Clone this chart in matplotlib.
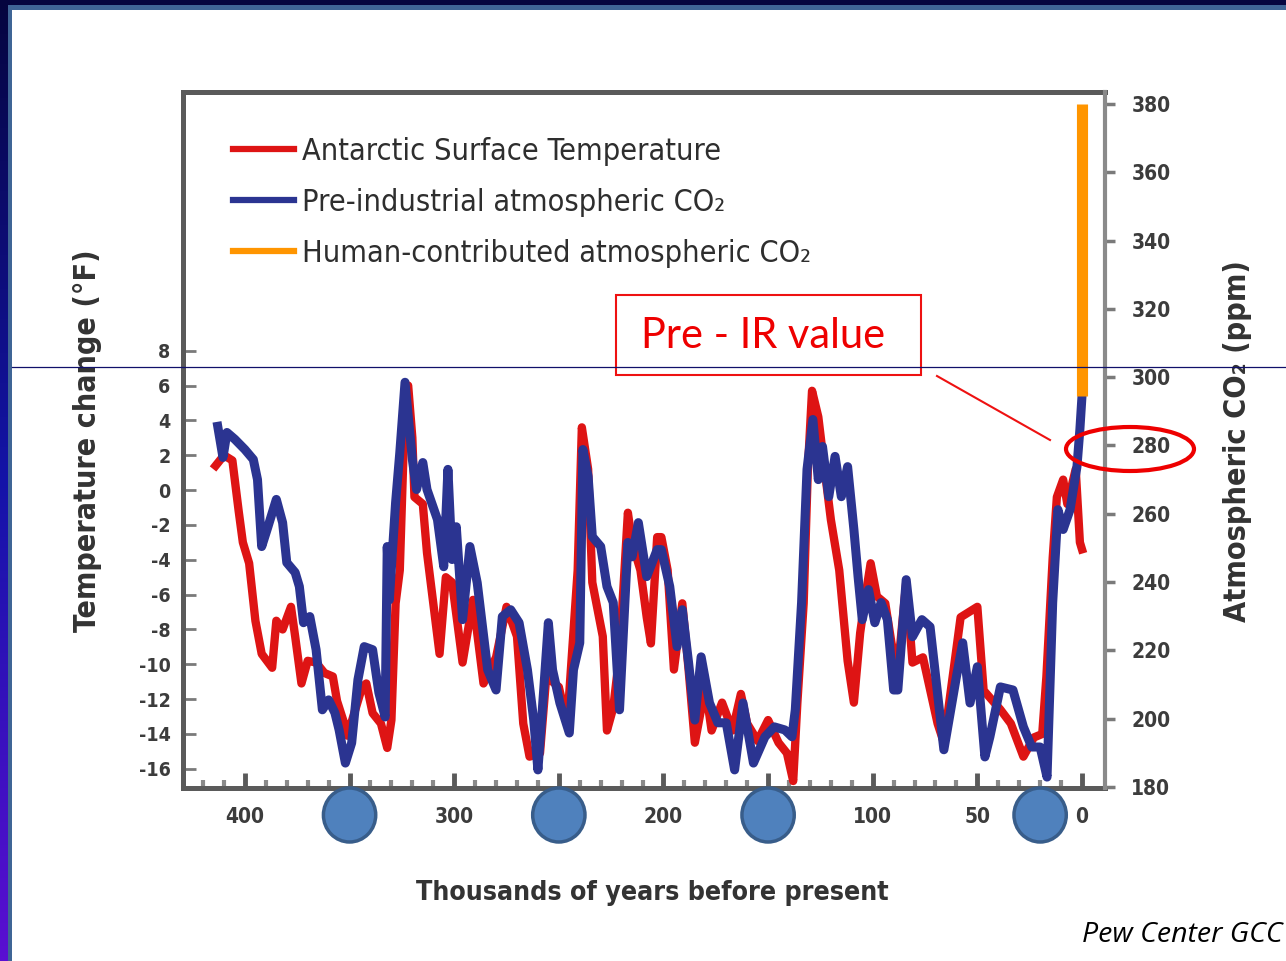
import matplotlib
matplotlib.use("Agg")
import matplotlib.pyplot as plt
import matplotlib.transforms as mtransforms
import numpy as np
from matplotlib.colors import LinearSegmentedColormap
from matplotlib.lines import Line2D
from matplotlib.patches import Ellipse, Rectangle

plt.rcParams['font.family'] = 'DejaVu Sans'
plt.rcParams['font.stretch'] = 'condensed'
plt.rcParams['axes.unicode_minus'] = False

# Antarctic surface temperature change (deg F), thousands of years before present
temp_kyr = [414, 410, 406, 403, 401, 398, 395, 392, 387, 385, 382, 378, 376, 373, 370,
            366, 362, 358, 356, 352, 351, 344, 342, 339, 335, 332, 330, 328, 326, 324,
            322, 320, 319, 315, 313, 307, 304, 301, 296, 291, 286, 280, 275, 270, 267,
            264, 259, 256, 250, 246, 241, 239, 236, 234, 229, 227, 224, 221, 217, 215,
            211, 208, 206, 203, 201, 198, 195, 191, 188, 185, 180, 177, 172, 167, 163,
            160, 155, 150, 145, 141, 138, 136, 133, 131, 129, 126, 123, 120, 116, 112,
            109, 106, 104, 101, 98, 94, 91, 88, 84, 81, 76, 69, 66, 58, 50,
            47, 39, 34, 28, 23, 19, 17, 14, 12, 9, 7, 3, 1, 0]
temp_f = [1.4, 2.0, 1.7, -1.2, -3.0, -4.2, -7.5, -9.4, -10.2, -7.5, -8.0, -6.7, -8.4, -11.1, -9.8,
          -9.9, -10.5, -10.7, -12.1, -13.6, -14.1, -11.3, -11.1, -12.8, -13.4, -14.8, -13.2, -6.5, -4.6, 3.0,
          6.0, 3.0, -0.4, -0.8, -3.6, -9.4, -5.0, -5.3, -9.9, -6.3, -11.1, -9.6, -6.7, -8.4, -13.4,
          -15.3, -15.1, -10.7, -11.3, -13.4, -4.6, 3.6, 1.2, -5.3, -8.4, -13.8, -12.5, -9.4, -1.3, -3.0,
          -4.6, -7.3, -8.8, -2.7, -2.7, -4.6, -10.3, -6.5, -10.3, -14.5, -11.3, -13.8, -12.2, -13.8, -11.7,
          -13.4, -14.4, -13.2, -14.5, -15.1, -16.7, -12.2, -6.5, 1.2, 5.7, 4.2, 1.2, -1.7, -4.6, -9.8,
          -12.2, -8.2, -6.5, -4.2, -6.1, -6.5, -8.8, -10.3, -5.3, -9.9, -9.6, -13.4, -14.5, -7.3, -6.7,
          -11.5, -12.6, -13.4, -15.3, -14.2, -14.0, -10.7, -3.9, -0.4, 0.6, -0.8, 1.2, -3.0, -3.4]

# pre-industrial atmospheric CO2 (ppm)
co2_kyr = [413, 410.5, 408.6, 404.8, 400, 396, 394, 392, 389, 385, 382, 380, 376, 374, 372,
           369, 366, 363, 360, 357, 355, 352, 349, 346, 343, 339, 336, 333, 332, 331,
           328, 326, 323.5, 320, 318, 315, 313, 308, 305, 303, 301, 299, 296, 292.5, 289,
           284, 280, 277, 273, 269, 265, 262, 260, 258, 255, 253, 249.5, 245, 243, 240,
           238.5, 236, 234, 230, 227, 224, 221, 217, 215, 212, 208, 203, 201, 197, 193.5,
           191, 188, 185, 182, 178, 174, 170, 166, 162, 157, 151.5, 147, 142, 138.6, 137,
           134, 131.4, 128.6, 126, 124, 121, 118, 115, 112, 109, 107, 105, 102, 99, 96,
           93, 90, 88, 84, 81, 76.5, 72.6, 66, 60, 57, 53.5, 50, 46.4, 44, 39,
           33, 28, 24, 20, 16.7, 14, 11.5, 9, 5.7, 2.4, 1, 0]
co2_ppm = [285.6, 276.5, 283.8, 281.8, 278.8, 275.9, 270.0, 250.4, 256.2, 264.2, 257.4, 245.7, 242.8, 238.7, 228.1,
           229.9, 220.2, 202.6, 205.5, 201.7, 196.7, 187.0, 192.9, 211.4, 221.1, 220.2, 207.6, 200.5, 250.4, 234.8,
           263.3, 277.9, 298.5, 275.9, 267.1, 275.0, 267.1, 258.3, 244.5, 273.0, 246.6, 256.2, 229.0, 250.4, 239.8,
           214.3, 208.4, 229.9, 231.9, 228.1, 214.3, 199.6, 185.0, 201.7, 228.1, 214.3, 204.6, 195.8, 214.3, 222.2,
           278.8, 270.9, 253.3, 250.4, 238.7, 234.0, 202.6, 251.6, 247.4, 257.4, 241.6, 249.5, 249.5, 238.7, 221.1,
           231.9, 216.4, 199.6, 218.1, 204.6, 198.8, 198.8, 185.0, 204.6, 187.0, 194.7, 197.6, 196.7, 194.7, 202.6,
           234.0, 273.0, 287.6, 270.0, 279.7, 265.0, 276.8, 265.0, 273.8, 255.4, 241.6, 229.0, 237.8, 228.1, 234.0,
           229.0, 208.4, 208.4, 240.7, 224.0, 229.0, 226.9, 190.9, 212.3, 222.2, 204.6, 215.2, 188.8, 194.7, 209.3,
           208.4, 197.6, 191.7, 191.7, 182.9, 234.0, 261.2, 255.4, 261.2, 273.8, 284.7, 294.4]

# human-contributed CO2 on top of the pre-industrial level
human_kyr = [0, 0]
human_ppm = [294.4, 380]

temp_ticks = list(range(-16, 9, 2))
co2_ticks = list(range(180, 381, 20))
kyr_major = list(range(0, 401, 50))
kyr_labels = [400, 300, 200, 100, 50, 0]
marker_kyr = [350, 250, 150, 20]

W, H = 1286, 961
fig = plt.figure(figsize=(W / 100, H / 100), dpi=100)
fig.patch.set_facecolor('white')


def fx(x):
    return x / W


def fy(y):
    return 1 - y / H


# slide frame
edge = fig.add_axes([0, 0, 8 / W, 1])
grad = np.linspace(0, 1, 256).reshape(-1, 1)
edge_cmap = LinearSegmentedColormap.from_list('edge', ['#05053f', '#1414a8', '#5a0fd2'])
edge.imshow(grad, aspect='auto', cmap=edge_cmap, extent=[0, 1, 0, 1], origin='upper')
edge.axis('off')
fig.add_artist(Rectangle((0, fy(5)), 1, 5 / H, transform=fig.transFigure,
                         facecolor='#05053f', edgecolor='none', zorder=1))
fig.add_artist(Rectangle((fx(8), fy(10)), 1, 5 / H, transform=fig.transFigure,
                         facecolor='#3f6596', edgecolor='none', zorder=1))
fig.add_artist(Rectangle((fx(8), 0), 4 / W, fy(5), transform=fig.transFigure,
                         facecolor='#3f6596', edgecolor='none', zorder=1))

ax = fig.add_axes([fx(183), fy(788), (1105 - 183) / W, (788 - 92) / H])
ax2 = ax.twinx()

red = '#de1414'
blue = '#2b3491'
orange = '#ff9500'
ax.plot(temp_kyr, temp_f, color=red, lw=6, solid_joinstyle='round')
ax2.plot(co2_kyr, co2_ppm, color=blue, lw=6.5, solid_joinstyle='round')
ax2.plot(human_kyr, human_ppm, color=orange, lw=8, solid_capstyle='butt')

ax.set_xlim(429.6, -11.0)
ax.set_ylim(-17.1, 22.85)
ax2.set_ylim(179.7, 383.5)

# spines
for side in ['left', 'bottom', 'top']:
    ax.spines[side].set_color('#5a5a5a')
    ax.spines[side].set_linewidth(3.6)
ax.spines['right'].set_visible(False)
for side in ['left', 'bottom', 'top']:
    ax2.spines[side].set_visible(False)
ax2.spines['right'].set_color('#8a8a8a')
ax2.spines['right'].set_linewidth(3)

tick_col = '#3c3c3c'
ax.set_yticks(temp_ticks)
ax.tick_params(axis='y', direction='in', length=9, width=2, color='#7a7a7a',
               pad=9, labelsize=14, labelcolor=tick_col)
ax.set_xticks(kyr_major)
ax.set_xticklabels([str(v) if v in kyr_labels else '' for v in kyr_major])
ax.set_xticks([v for v in range(10, 421, 10) if v % 50 != 0], minor=True)
ax.tick_params(axis='x', which='major', direction='in', length=11, width=3.5,
               color='#5a5a5a', pad=14, labelsize=15, labelcolor=tick_col)
ax.tick_params(axis='x', which='minor', direction='in', length=6, width=3, color='#8a8a8a')

ax2.set_yticks(co2_ticks)
ax2.tick_params(axis='y', direction='out', length=7, width=2.5, color='#7a7a7a',
                pad=12, labelsize=15, labelcolor=tick_col)

for lbl in ax.get_xticklabels() + ax.get_yticklabels() + ax2.get_yticklabels():
    lbl.set_fontweight('bold')

label_col = '#333333'
ax.set_xlabel('Thousands of years before present', fontsize=19.2, color=label_col,
              fontweight='bold', va='center')
ax.xaxis.set_label_coords((652 - 183) / 922, (788 - 893) / 696)
ax.set_ylabel('Temperature change (°F)', fontsize=21.8, color=label_col,
              fontweight='bold', va='center')
ax.yaxis.set_label_coords((88 - 183) / 922, (788 - 441) / 696)
ax2.set_ylabel('Atmospheric CO₂ (ppm)', fontsize=22, color=label_col,
               fontweight='bold', rotation=90, va='center')
ax2.yaxis.set_label_coords((1238 - 183) / 922, (788 - 441) / 696)

handles = [Line2D([], [], color=red, lw=4.5),
           Line2D([], [], color=blue, lw=4.5),
           Line2D([], [], color=orange, lw=4.5)]
labels = ['Antarctic Surface Temperature',
          'Pre-industrial atmospheric CO₂',
          'Human-contributed atmospheric CO₂']
leg = ax2.legend(handles, labels, loc='upper left', bbox_to_anchor=(fx(233), fy(137)),
                 bbox_transform=fig.transFigure, frameon=False, fontsize=22,
                 handlelength=2.0, handletextpad=0.25, labelspacing=0.72,
                 borderpad=0, borderaxespad=0)
for t in leg.get_texts():
    t.set_color('#2e2e2e')

# markers over the time axis
blend = mtransforms.blended_transform_factory(ax.transData, fig.transFigure)
for k in marker_kyr:
    fig.add_artist(Ellipse((k, fy(815)), width=25, height=54 / H, transform=blend,
                           facecolor='#4f81bd', edgecolor='#385d8a', lw=2.5, zorder=10))

# callout
fig.add_artist(Rectangle((fx(616), fy(375)), (921 - 616) / W, (375 - 295) / H,
                         transform=fig.transFigure, facecolor='white',
                         edgecolor='#ee1111', lw=1.5, zorder=11))
fig.text(fx(763), fy(336), 'Pre - IR value', color='#ee0000', fontsize=30,
         family='Lato', fontstretch='normal', ha='center', va='center', zorder=12)
fig.add_artist(Line2D([fx(937), fx(1050)], [fy(376), fy(440)], color='#ee1111', lw=1.5,
                      transform=fig.transFigure, zorder=11))
fig.add_artist(Ellipse((fx(1130), fy(449)), 128 / W, 44 / H, transform=fig.transFigure,
                       fill=False, edgecolor='#ee0000', lw=3, zorder=11))

fig.add_artist(Line2D([fx(12), 1], [fy(367), fy(367)], color='#10106a', lw=0.9,
                      transform=fig.transFigure, zorder=13))

fig.text(fx(1082), fy(935), 'Pew Center GCC', style='italic', fontsize=20.5,
         family='Open Sans', fontstretch='normal', ha='left', va='center', color='black')

fig.savefig('out.png', dpi=100)
